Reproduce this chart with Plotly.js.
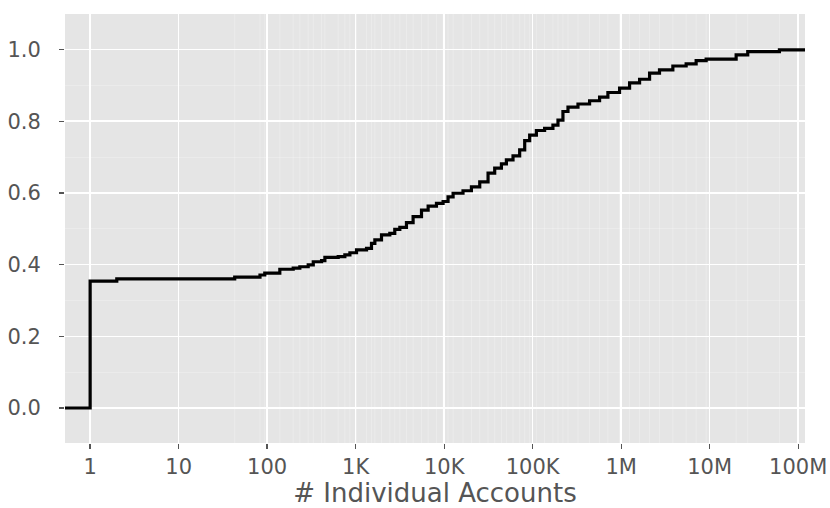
<!DOCTYPE html>
<html>
<head>
<meta charset="utf-8">
<script src="https://cdn.plot.ly/plotly-3.0.1.min.js"></script>
<style>html,body{margin:0;padding:0;background:#fff;}#chart{width:830px;height:508px;}</style>
</head>
<body>
<div id="chart"></div>
<script>
// ECDF step points: number of individual accounts vs cumulative fraction
const accounts = [0.52, 1, 2, 43, 83, 94, 139, 197, 234, 291, 332, 412, 449, 635, 755, 861, 1023, 1327, 1510, 1648, 1959, 2432, 2767, 3155, 3750, 4457, 5546, 6592, 8185, 9727, 11066, 12618, 16331, 20324, 25235, 31333, 37239, 44361, 50466, 59979, 71285, 81283, 92470, 110154, 136458, 169434, 193197, 219786, 250611, 325087, 439542, 570164, 707946, 959401, 1244515, 1614359, 2094112, 2710192, 3837072, 5420009, 7030723, 9120108, 19907043, 26915348, 61376200, 120000000];
const ecdf = [0, 0.354, 0.360, 0.365, 0.371, 0.376, 0.387, 0.390, 0.394, 0.399, 0.408, 0.411, 0.420, 0.422, 0.427, 0.433, 0.441, 0.445, 0.459, 0.469, 0.483, 0.487, 0.498, 0.504, 0.517, 0.534, 0.552, 0.563, 0.571, 0.576, 0.589, 0.599, 0.606, 0.617, 0.631, 0.655, 0.669, 0.681, 0.692, 0.703, 0.720, 0.746, 0.761, 0.774, 0.780, 0.789, 0.803, 0.827, 0.839, 0.848, 0.857, 0.867, 0.880, 0.892, 0.907, 0.917, 0.934, 0.943, 0.954, 0.960, 0.969, 0.973, 0.985, 0.994, 0.999, 1.0];
const xTickVals = [1, 10, 100, 1e3, 1e4, 1e5, 1e6, 1e7, 1e8];
const xTickText = ['1', '10', '100', '1K', '10K', '100K', '1M', '10M', '100M'];
const yTickVals = [0, 0.2, 0.4, 0.6, 0.8, 1.0];
const yTickText = ['0.0', '0.2', '0.4', '0.6', '0.8', '1.0'];
const yMinorVals = [-0.1, 0.1, 0.3, 0.5, 0.7, 0.9, 1.1];

// faint vertical lines at data positions
const rugX = [], rugY = [];
accounts.slice(3, -1).forEach(v => { rugX.push(v, v, null); rugY.push(-1, 2, null); });

const font = "DejaVu Sans, sans-serif";
const traces = [
  {x: rugX, y: rugY, mode: 'lines', line: {color: 'rgba(255,255,255,0.25)', width: 1}, hoverinfo: 'skip', showlegend: false},
  {x: accounts, y: ecdf, mode: 'lines', line: {color: '#000000', width: 3.2, shape: 'hv'}, showlegend: false}
];
const layout = {
  width: 830, height: 508,
  margin: {l: 65, r: 25, t: 14, b: 65},
  paper_bgcolor: '#ffffff', plot_bgcolor: '#E5E5E5',
  showlegend: false,
  font: {family: font, color: '#555555'},
  xaxis: {
    type: 'log', range: [Math.log10(0.52), 8.077],
    tickmode: 'array', tickvals: xTickVals, ticktext: xTickText,
    showgrid: true, gridcolor: '#ffffff', gridwidth: 1.5,
    zeroline: false, showline: false,
    ticks: 'outside', ticklen: 5, tickwidth: 1.3, tickcolor: '#555555',
    tickfont: {size: 21, color: '#555555', family: font},
    title: {text: '# Individual Accounts', font: {size: 26, color: '#555555', family: font}, standoff: 7}
  },
  yaxis: {
    range: [-0.0976, 1.099],
    tickmode: 'array', tickvals: yTickVals, ticktext: yTickText,
    showgrid: true, gridcolor: '#ffffff', gridwidth: 1.5,
    minor: {tickmode: 'array', tickvals: yMinorVals, showgrid: true, gridcolor: '#EBEBEB', gridwidth: 1, ticks: ''},
    zeroline: false, showline: false,
    ticks: 'outside', ticklen: 5, tickwidth: 1.3, tickcolor: '#555555',
    ticklabelstandoff: 14,
    tickfont: {size: 21, color: '#555555', family: font}
  }
};
Plotly.newPlot('chart', traces, layout, {displayModeBar: false, staticPlot: true});
</script>
</body>
</html>
